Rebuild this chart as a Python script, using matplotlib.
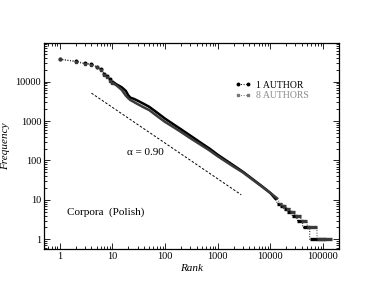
import numpy as np
import matplotlib
matplotlib.use('Agg')
import matplotlib.pyplot as plt
from matplotlib.ticker import FuncFormatter, LogLocator
from matplotlib.lines import Line2D

plt.rcParams['font.family'] = ['Liberation Serif', 'DejaVu Serif']

# ---- data ----
# 1 AUTHOR
a_head_rank = [1, 2, 3, 4, 5, 6, 7, 8, 9, 10]
a_head_freq = [37000, 33000, 29000, 28000, 24000, 21000, 16000, 14000, 11500, 10000]
a_body_rank = [10, 12, 15, 18, 20, 22, 25, 30, 40, 50, 70, 100, 150, 200, 300,
               500, 700, 1000, 2000, 3000, 5000, 7000, 10000, 13000]
a_body_freq = [10000, 8500, 7200, 5800, 4500, 3900, 3700, 3300, 2700, 2300, 1650,
               1150, 800, 620, 430, 270, 200, 140, 75, 52, 31, 22, 15, 10]
a_step_freq = [8, 7, 6, 5, 4, 3, 2, 1]
a_step_start = [13500, 15500, 18000, 21000, 26000, 32000, 41000, 56000]
a_step_end = [15500, 18000, 21000, 26000, 32000, 41000, 56000, 115000]

# 8 AUTHORS
b_head_rank = [1, 2, 3, 4, 5, 6, 7, 8, 9, 10]
b_head_freq = [37000, 32000, 28000, 27000, 23000, 20000, 15000, 13000, 10500, 9300]
b_body_rank = [10, 12, 15, 18, 20, 22, 25, 30, 40, 50, 70, 100, 150, 200, 300,
               500, 700, 1000, 2000, 3000, 5000, 7000, 10000, 14000]
b_body_freq = [9300, 8000, 6200, 4400, 3800, 3400, 3100, 2700, 2200, 1900, 1350,
               950, 680, 530, 370, 240, 180, 128, 70, 50, 30, 21.5, 15, 10.5]
b_step_freq = [8, 7, 6, 5, 4, 3, 2, 1]
b_step_start = [15000, 17000, 20000, 24000, 29000, 38000, 50000, 77000]
b_step_end = [17000, 20000, 24000, 29000, 38000, 50000, 77000, 147000]

# power law guide, alpha = 0.90
fit_rank = [4, 2800]
fit_freq = [5100, 13.5]

col_a = 'black'
col_b = '#3a3a3a'

fig = plt.figure(figsize=(3.82, 2.95), dpi=100)
ax = fig.add_axes([0.115, 0.156, 0.772, 0.698])


def draw_series(ax, hr, hf, br, bf, sf, ss, se, col, mk):
    # full sequence connected by a thin dotted line
    rr = list(hr) + list(br)
    ff = list(hf) + list(bf)
    for f, s, e in zip(sf, ss, se):
        rr += [s, e]
        ff += [f, f]
    ax.plot(rr, ff, ls=':', lw=0.7, color=col)
    ax.plot(hr, hf, ls='none', marker=mk, ms=1.9, color=col)
    # dense region looks like a thick band
    ax.plot(br, bf, ls='-', lw=1.8, color=col, solid_capstyle='butt')
    ax.hlines(sf, ss, se, lw=2.4, color=col)


draw_series(ax, a_head_rank, a_head_freq, a_body_rank, a_body_freq,
            a_step_freq, a_step_start, a_step_end, col_a, 'o')
draw_series(ax, b_head_rank, b_head_freq, b_body_rank, b_body_freq,
            b_step_freq, b_step_start, b_step_end, col_b, 's')

ax.plot(fit_rank, fit_freq, ls=(0, (2.5, 1.8)), lw=0.7, color='black')

ax.set_xscale('log')
ax.set_yscale('log')
ax.set_xlim(0.5, 200000)
ax.set_ylim(0.57, 95000)

ax.xaxis.set_major_locator(LogLocator(base=10, numticks=10))
ax.yaxis.set_major_locator(LogLocator(base=10, numticks=10))
fmt = FuncFormatter(lambda v, p: '%d' % v if v >= 1 else '')
ax.xaxis.set_major_formatter(fmt)
ax.yaxis.set_major_formatter(fmt)
ax.tick_params(which='both', direction='in', top=True, right=True,
               labelsize=7.5, width=0.6, pad=2)
ax.tick_params(which='major', length=4)
ax.tick_params(which='minor', length=2)
for sp in ax.spines.values():
    sp.set_linewidth(0.9)

ax.set_xlabel('Rank', fontstyle='italic', fontsize=8, labelpad=2)
ax.set_ylabel('Frequency', fontstyle='italic', fontsize=8, labelpad=4)

ax.text(41.5, 155, '\u03b1 = 0.90', fontsize=8, ha='center', va='center')
ax.text(1.4, 5.0, 'Corpora  (Polish)', fontsize=8, ha='left', va='center')

handles = [Line2D([], [], ls=':', lw=0.7, color=col_a, marker='o', ms=1.8),
           Line2D([], [], ls=':', lw=0.7, color='#777777', marker='s', ms=1.8)]
ax.legend(handles, ['1 AUTHOR', '8 AUTHORS'], loc='upper left',
          bbox_to_anchor=(0.62, 0.86), frameon=False, fontsize=7,
          handlelength=1.6, handletextpad=0.5, labelspacing=0.15,
          numpoints=2, labelcolor=['black', '#8a8a8a'])

fig.savefig('out.png', dpi=100)
